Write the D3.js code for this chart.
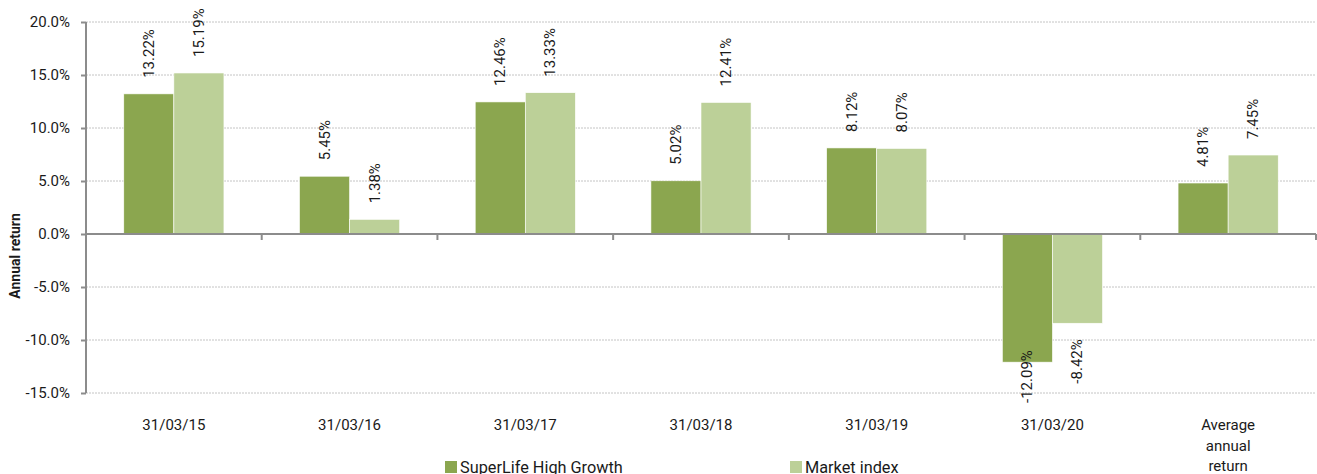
<!DOCTYPE html>
<html>
<head>
<meta charset="utf-8">
<script src="https://cdn.jsdelivr.net/npm/d3@7"></script>
<style>
    body { margin: 0; background: #fff; }
    text { font-family: Roboto, "Noto Sans", sans-serif; fill: #1a1a1a; }
</style>
</head>
<body>
<svg id="chart" width="1317" height="474"></svg>
<script>
// data
var CATEGORIES = ['31/03/15', '31/03/16', '31/03/17', '31/03/18', '31/03/19', '31/03/20', 'Average annual return'];
var SERIES = ['SuperLife High Growth', 'Market index'];
var HIGH_GROWTH = [13.22, 5.45, 12.46, 5.02, 8.12, -12.09, 4.81];
var MARKET_INDEX = [15.19, 1.38, 13.33, 12.41, 8.07, -8.42, 7.45];
var Y_TICKS = [-15, -10, -5, 0, 5, 10, 15, 20];
var COLORS = ['#8ba64f', '#bcd098'];

(function () {
    var svg = d3.select('#chart');
    var left = 86, right = 1316, top = 22, bottom = 393;

    var x0 = d3.scaleBand().domain(CATEGORIES).range([left, right]);
    var bw = x0.bandwidth();
    var groupW = bw * 0.57;
    var x1 = d3.scaleBand().domain(SERIES).range([(bw - groupW) / 2, (bw + groupW) / 2]);
    var y = d3.scaleLinear().domain([-15, 20]).range([bottom, top]);

    // gridlines
    svg.append('g').selectAll('line')
        .data(Y_TICKS.filter(function (d) { return d !== 0; }))
        .join('line')
        .attr('x1', left).attr('x2', right)
        .attr('y1', function (d) { return y(d); }).attr('y2', function (d) { return y(d); })
        .attr('stroke', '#c4c4c4').attr('stroke-width', 1).attr('stroke-dasharray', '2,1');

    // bars
    var rows = CATEGORIES.map(function (c, i) {
        return {cat: c, vals: [{s: SERIES[0], v: HIGH_GROWTH[i], c: COLORS[0]}, {s: SERIES[1], v: MARKET_INDEX[i], c: COLORS[1]}]};
    });
    var grp = svg.append('g').selectAll('g').data(rows).join('g')
        .attr('transform', function (d) { return 'translate(' + x0(d.cat) + ',0)'; });
    grp.selectAll('rect').data(function (d) { return d.vals; }).join('rect')
        .attr('x', function (d) { return x1(d.s); })
        .attr('width', x1.bandwidth())
        .attr('y', function (d) { return y(Math.max(0, d.v)); })
        .attr('height', function (d) { return Math.abs(y(d.v) - y(0)); })
        .attr('fill', function (d) { return d.c; })
        .attr('stroke', '#fff').attr('stroke-width', 0.6);

    // value labels (rotated), negatives kept close to the plot bottom
    grp.selectAll('text.val').data(function (d) { return d.vals; }).join('text')
        .attr('class', 'val')
        .attr('font-size', 15)
        .attr('text-anchor', function (d) { return d.v >= 0 ? 'start' : 'end'; })
        .text(function (d) { return d.v.toFixed(2) + '%'; })
        .each(function (d) {
            var len = this.getComputedTextLength();
            var cx = x1(d.s) + x1.bandwidth() / 2 + 5;
            var yy;
            if (d.v >= 0) {
                yy = y(d.v) - 16;
            } else {
                yy = y(d.v) + 16;
                if (yy + len > bottom + 10) yy = bottom + 10 - len;
            }
            d3.select(this).attr('transform', 'translate(' + cx + ',' + yy + ') rotate(-90)');
        });

    // y axis
    var yAxis = svg.append('g').attr('transform', 'translate(' + left + ',0)')
        .call(d3.axisLeft(y).tickValues(Y_TICKS).tickSize(5).tickPadding(11)
            .tickFormat(function (d) { return d.toFixed(1) + '%'; }));
    yAxis.select('.domain').attr('stroke', '#8c8c8c').attr('stroke-width', 2)
        .attr('d', 'M0,' + top + 'V' + bottom);
    yAxis.selectAll('.tick line').attr('stroke', '#8c8c8c').attr('stroke-width', 2);
    yAxis.selectAll('.tick text').attr('font-size', 15).attr('font-family', 'Roboto').attr('fill', '#1a1a1a');

    // zero line with category ticks
    var xAxis = svg.append('g').attr('transform', 'translate(0,' + y(0) + ')');
    xAxis.append('line').attr('x1', left).attr('x2', right).attr('stroke', '#8c8c8c').attr('stroke-width', 2);
    xAxis.selectAll('line.tk').data(CATEGORIES.slice(1).concat([null])).join('line')
        .attr('class', 'tk')
        .attr('x1', function (d) { return d ? x0(d) : right; })
        .attr('x2', function (d) { return d ? x0(d) : right; })
        .attr('y1', 0).attr('y2', 6)
        .attr('stroke', '#8c8c8c').attr('stroke-width', 2);

    // category labels
    var catLbl = svg.append('g').selectAll('text').data(CATEGORIES).join('text')
        .attr('font-size', 15)
        .attr('text-anchor', 'middle')
        .attr('x', function (d) { return x0(d) + bw / 2; })
        .attr('y', 430);
    catLbl.each(function (d) {
        var words = d.indexOf('/') >= 0 ? [d] : d.split(' ');
        d3.select(this).selectAll('tspan').data(words).join('tspan')
            .attr('x', x0(d) + bw / 2)
            .attr('dy', function (w, i) { return i === 0 ? 0 : 20.5; })
            .text(function (w) { return w; });
    });

    // y axis title
    svg.append('text')
        .attr('transform', 'translate(20,256) rotate(-90)')
        .attr('text-anchor', 'middle')
        .attr('font-size', 14).attr('font-weight', 'bold')
        .text('Annual return');

    // legend
    var legX = [445, 790];
    var leg = svg.append('g').selectAll('g').data(SERIES).join('g')
        .attr('transform', function (d, i) { return 'translate(' + legX[i] + ',461)'; });
    leg.append('rect').attr('width', 12).attr('height', 12)
        .attr('fill', function (d, i) { return COLORS[i]; });
    leg.append('text').attr('x', 15).attr('y', 12).attr('font-size', 16.3)
        .text(function (d) { return d; });
})();
</script>
</body>
</html>
